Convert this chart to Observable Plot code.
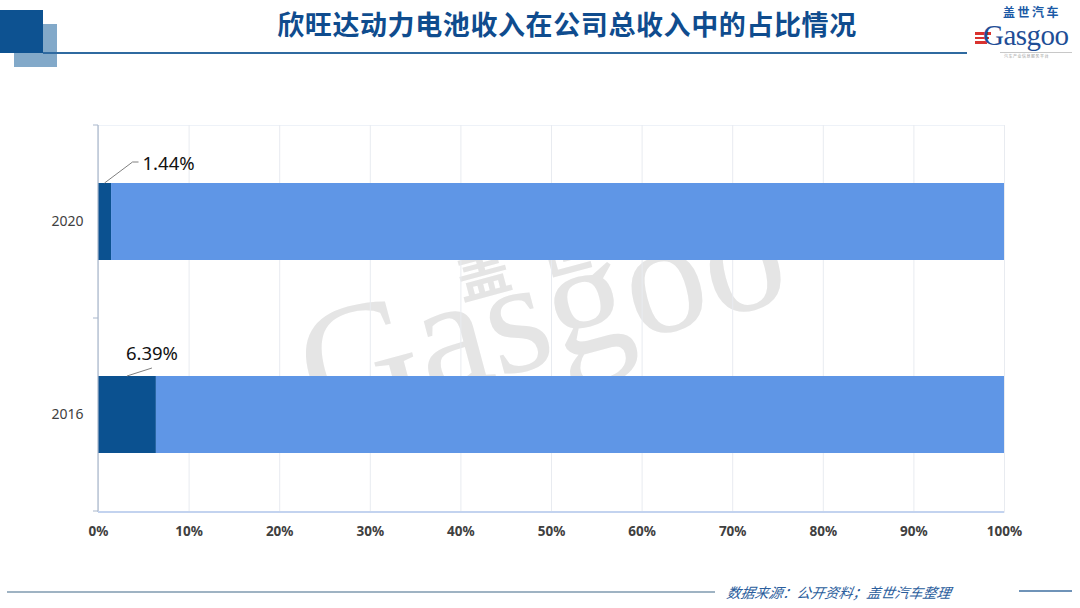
<!DOCTYPE html>
<html>
<head>
<meta charset="utf-8">
<script src="https://cdn.jsdelivr.net/npm/d3@7"></script>
<script src="https://cdn.jsdelivr.net/npm/@observablehq/plot@0.6"></script>
<style>
  html, body { margin: 0; padding: 0; background: #fff; }
  #page { position: relative; width: 1080px; height: 608px; overflow: hidden; background: #fff;
          font-family: "Noto Sans", "Noto Sans CJK SC", sans-serif; }
  .abs { position: absolute; }
  #chart { position: absolute; left: 0; top: 0; z-index: 2; }
  #chart svg { background: transparent !important; }
  #chart g[aria-label^="x-axis"] text { font-weight: 700; }
  #wm { position: absolute; left: 0; top: 0; z-index: 1; }
  .top { z-index: 3; }
</style>
</head>
<body>
<div id="page">
  <!-- decorative header -->
  <div class="abs top" style="left:14px;top:24px;width:43px;height:43px;background:#82a9c9;"></div>
  <div class="abs top" style="left:0;top:10px;width:43px;height:43px;background:#0d5291;"></div>
  <div class="abs top" style="left:43px;top:52px;width:924px;height:1.5px;background:#2f6aa0;"></div>
  <div class="abs top" style="left:0;width:1134px;top:8px;text-align:center;font-family:'Noto Sans CJK SC',sans-serif;font-weight:700;font-size:27px;line-height:32px;letter-spacing:0.6px;color:#0f4c8e;">欣旺达动力电池收入在公司总收入中的占比情况</div>
  <!-- logo -->
  <div class="abs top" style="left:1003px;top:5px;font-family:'Noto Sans CJK SC',sans-serif;font-weight:700;font-size:12px;line-height:14px;letter-spacing:2.5px;color:#1b5aa6;">盖世汽车</div>
  <div class="abs top" style="left:975px;top:32px;width:16px;height:2.5px;background:#d9332e;"></div>
  <div class="abs top" style="left:975px;top:36.5px;width:14px;height:2.5px;background:#d9332e;"></div>
  <div class="abs top" style="left:975px;top:41px;width:12px;height:2.5px;background:#d9332e;"></div>
  <div class="abs top" style="left:983px;top:21px;font-family:'Liberation Serif','DejaVu Serif',serif;font-size:29px;line-height:28px;color:#1f4e96;letter-spacing:-0.5px;">Gasgoo</div>
  <div class="abs top" style="left:1000px;top:52px;width:72px;height:1px;background:#c8c8c8;"></div>
  <div class="abs top" style="left:1004px;top:54px;font-family:'Noto Sans CJK SC',sans-serif;font-size:4px;line-height:5px;color:#9a9a9a;letter-spacing:0.5px;">汽车产业信息服务平台</div>
  <!-- footer -->
  <div class="abs top" style="left:7px;top:591px;width:708px;height:1.5px;background:#9fb3c3;"></div>
  <div class="abs top" style="left:727px;top:582px;font-family:'Noto Sans CJK SC',sans-serif;font-style:italic;font-size:14px;line-height:20px;color:#2a5d9c;transform:skewX(-10deg);">数据来源：公开资料；盖世汽车整理</div>
  <div class="abs top" style="left:1019px;top:590px;width:53px;height:1.5px;background:#6f93b8;"></div>

  <svg id="wm" width="1080" height="608">
    <text x="555" y="362" text-anchor="middle" transform="rotate(-15 555 362)"
          font-family="Liberation Serif, DejaVu Serif, serif" font-size="162" fill="#e5e5e5">Gasgoo</text>
    <text x="462" y="300" transform="rotate(-15 462 300)"
          font-family="Noto Sans CJK SC, sans-serif" font-weight="700" font-size="54" letter-spacing="30" fill="#e5e5e5">盖世汽车</text>
  </svg>
  <div id="chart"></div>
</div>
<script>
// ---- data ----
const years = ["2020", "2016"];
const batteryShare = [1.44, 6.39];          // % of total revenue
const xTicks = [0, 10, 20, 30, 40, 50, 60, 70, 80, 90, 100];
const parts = ["battery", "other"];
const partColors = ["#0b5190", "#5f96e6"];

// table built from arrays
const segments = [];
years.forEach((yr, i) => {
  segments.push({year: yr, part: "battery", x1: 0, x2: batteryShare[i]});
  segments.push({year: yr, part: "other", x1: batteryShare[i], x2: 100});
});
const labelRows = years.map((yr, i) => ({year: yr, share: batteryShare[i]}));

// per-label callout layout (Excel-like placement)
const callout = {
  "2020": {elbow: [28, -21], end: [34, -21], text: [38, -21], anchor: "start"},
  "2016": {elbow: [25, -8], end: null, text: [25, -24], anchor: "middle"}
};

function overlay(index, scales, values, dims) {
  const x = scales.x, y = scales.y;
  const bw = typeof y.bandwidth === "function" ? y.bandwidth() : y.bandwidth;
  const step = typeof y.step === "function" ? y.step() : (y.step || bw / 0.4);
  const L = dims.marginLeft, R = dims.width - dims.marginRight;
  const T = dims.marginTop, B = dims.height - dims.marginBottom;
  const g = d3.create("svg:g");
  // frame
  g.append("line").attr("x1", L).attr("x2", L).attr("y1", T).attr("y2", B)
    .attr("stroke", "#a9b7cc").attr("stroke-width", 1.2);
  g.append("line").attr("x1", L).attr("x2", R).attr("y1", B).attr("y2", B)
    .attr("stroke", "#c3d3ef").attr("stroke-width", 2);
  // category boundary ticks
  const bounds = [T];
  years.forEach(yr => bounds.push(y(yr) + bw + (step - bw) / 2));
  bounds.forEach(b => g.append("line").attr("x1", L - 5).attr("x2", L).attr("y1", b).attr("y2", b)
    .attr("stroke", "#a9b7cc").attr("stroke-width", 1));
  // callouts
  labelRows.forEach(d => {
    const c = callout[d.year];
    const mx = (x(0) + x(d.share)) / 2;
    const top = y(d.year);
    const pts = [[mx, top], [mx + c.elbow[0], top + c.elbow[1]]];
    if (c.end) pts.push([mx + c.end[0], top + c.end[1]]);
    g.append("path").attr("d", d3.line()(pts)).attr("fill", "none")
      .attr("stroke", "#808080").attr("stroke-width", 1);
    g.append("text").attr("x", mx + c.text[0]).attr("y", top + c.text[1])
      .attr("text-anchor", c.anchor).attr("dominant-baseline", "central")
      .attr("font-size", 18.5).attr("fill", "#111")
      .attr("font-family", "Noto Sans, sans-serif")
      .text(d.share.toFixed(2) + "%");
  });
  return g.node();
}

const plot = Plot.plot({
  width: 1080,
  height: 608,
  marginLeft: 98,
  marginRight: 76,
  marginTop: 125,
  marginBottom: 96,
  style: {background: "transparent", fontFamily: "Noto Sans, sans-serif", fontSize: "13px", color: "#404040"},
  x: {domain: [0, 100]},
  y: {domain: years, paddingInner: 0.6, paddingOuter: 0.3},
  color: {domain: parts, range: partColors},
  marks: [
    Plot.frame({stroke: "#eef2f8"}),
    Plot.gridX(xTicks, {stroke: "#e8ebf0", strokeOpacity: 1}),
    Plot.barX(segments, {y: "year", x1: "x1", x2: "x2", fill: "part"}),
    Plot.axisX(xTicks, {tickSize: 0, tickPadding: 14, tickFormat: d => d + "%", fontSize: 13.5, fontWeight: "bold", fill: "#404040", label: null}),
    Plot.axisY({tickSize: 0, tickPadding: 15, fontSize: 14, fill: "#404040", label: null}),
    overlay
  ]
});
document.getElementById("chart").appendChild(plot);
</script>
</body>
</html>
